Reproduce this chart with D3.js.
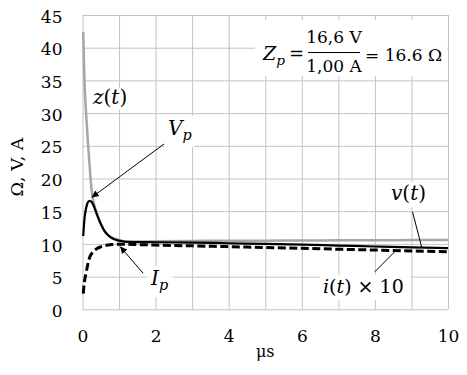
<!DOCTYPE html>
<html>
<head>
<meta charset="utf-8">
<script src="https://cdn.jsdelivr.net/npm/d3@7"></script>
<style>
  body { margin: 0; background: #fff; }
  svg { display: block; }
  .grid line { stroke: #c3c3c3; stroke-width: 1px; }
  .grid path { display: none; }
  text { font-family: "DejaVu Serif", serif; fill: #000; }
</style>
</head>
<body>
<div id="chart"></div>
<script>
// time, µs
var times = [0.02, 0.05, 0.1, 0.15, 0.2, 0.25, 0.3, 0.4, 0.5, 0.6, 0.7, 0.8, 1.0, 1.2, 1.5, 2, 3, 4, 5, 6, 7, 8, 9, 10];
// z(t), ohm
var zValues = [42.4, 35.5, 29.8, 25.4, 21.5, 18.2, 16.5, 14.6, 13.0, 11.95, 11.3, 10.95, 10.55, 10.38, 10.35, 10.4, 10.45, 10.5, 10.5, 10.52, 10.55, 10.56, 10.58, 10.6];
// v(t), V
var vValues = [11.2, 13.6, 15.5, 16.4, 16.6, 16.4, 15.9, 14.4, 13.1, 12.0, 11.35, 10.9, 10.5, 10.32, 10.28, 10.25, 10.2, 10.1, 10.0, 9.9, 9.75, 9.6, 9.47, 9.35];
// i(t) x 10, A
var iValues = [2.4, 4.1, 5.6, 7.0, 8.0, 8.5, 8.85, 9.3, 9.55, 9.72, 9.83, 9.9, 9.95, 9.95, 9.9, 9.82, 9.7, 9.58, 9.45, 9.32, 9.19, 9.06, 8.93, 8.8];

var xTicks = [0, 2, 4, 6, 8, 10];
var xGrid = [0, 1, 2, 3, 4, 5, 6, 7, 8, 9, 10];
var yTicks = [0, 5, 10, 15, 20, 25, 30, 35, 40, 45];

var margin = { left: 82.5, right: 19, top: 15, bottom: 65.7 };
var width = 467 - margin.left - margin.right;
var height = 375 - margin.top - margin.bottom;

var svg = d3.select("#chart").append("svg")
    .attr("width", 467)
    .attr("height", 375);

var g = svg.append("g")
    .attr("transform", "translate(" + margin.left + "," + margin.top + ")");

var x = d3.scaleLinear().domain([0, 10]).range([0, width]);
var y = d3.scaleLinear().domain([0, 45]).range([height, 0]);

// grid
g.append("g")
    .attr("class", "grid")
    .attr("transform", "translate(0," + height + ")")
    .call(d3.axisBottom(x).tickValues(xGrid).tickSize(-height).tickFormat(""));
g.append("g")
    .attr("class", "grid")
    .call(d3.axisLeft(y).tickValues(yTicks).tickSize(-width).tickFormat(""));

// tick labels
var xAxis = g.append("g")
    .attr("transform", "translate(0," + height + ")")
    .call(d3.axisBottom(x).tickValues(xTicks).tickSize(0).tickPadding(21));
xAxis.select(".domain").remove();
xAxis.selectAll("text").attr("font-size", "17px").attr("font-family", "DejaVu Serif");

var yAxis = g.append("g")
    .call(d3.axisLeft(y).tickValues(yTicks).tickSize(0).tickPadding(20));
yAxis.select(".domain").remove();
yAxis.selectAll("text").attr("font-size", "17px").attr("font-family", "DejaVu Serif")
    .attr("dy", "0.42em");

// axis titles
g.append("text")
    .attr("x", width / 2)
    .attr("y", height + 48)
    .attr("text-anchor", "middle")
    .attr("font-size", "16px")
    .text("μs");
g.append("text")
    .attr("transform", "rotate(-90)")
    .attr("x", -(167 - margin.top))
    .attr("y", 23 - margin.left)
    .attr("text-anchor", "middle")
    .attr("font-size", "17.5px")
    .text("Ω, V, A");

// series
function series(vals) {
    return times.map(function(t, k){ return { t: t, v: vals[k] }; });
}
var line = d3.line()
    .x(function(d){ return x(d.t); })
    .y(function(d){ return y(d.v); })
    .curve(d3.curveMonotoneX);

g.append("path")
    .attr("d", line(series(zValues)))
    .attr("fill", "none")
    .attr("stroke", "#a6a6a6")
    .attr("stroke-width", 2.5);
g.append("path")
    .attr("d", line(series(vValues)))
    .attr("fill", "none")
    .attr("stroke", "#000")
    .attr("stroke-width", 2.2);
g.append("path")
    .attr("d", line(series(iValues)))
    .attr("fill", "none")
    .attr("stroke", "#000")
    .attr("stroke-width", 3)
    .attr("stroke-dasharray", "8,3.5");

// arrow marker
svg.append("defs").append("marker")
    .attr("id", "arr")
    .attr("viewBox", "0 0 10 10")
    .attr("refX", 10).attr("refY", 5)
    .attr("markerWidth", 9).attr("markerHeight", 7)
    .attr("markerUnits", "userSpaceOnUse")
    .attr("orient", "auto")
    .append("path").attr("d", "M0,0L10,5L0,10z").attr("fill", "#000");

// label boxes (white, like text boxes)
function box(x0, y0, x1, y1) {
    svg.append("rect")
        .attr("x", x0).attr("y", y0)
        .attr("width", x1 - x0).attr("height", y1 - y0)
        .attr("fill", "#fff");
}

function mathText(px, py, parts, size, anchor) {
    var t = svg.append("text")
        .attr("x", px).attr("y", py)
        .attr("font-size", size + "px")
        .attr("text-anchor", anchor || "start");
    parts.forEach(function(p){
        var s = t.append("tspan").text(p.s);
        if (p.i) s.attr("font-style", "italic");
        if (p.sub) s.attr("font-size", (size * 0.72) + "px").attr("dy", p.sub);
        if (p.dx) s.attr("dx", p.dx);
    });
    return t;
}

function connector(t0, v0, t1, v1, arrow) {
    var l = g.append("line")
        .attr("x1", x(t0)).attr("y1", y(v0))
        .attr("x2", x(t1)).attr("y2", y(v1))
        .attr("stroke", "#000")
        .attr("stroke-width", 1);
    if (arrow) l.attr("marker-end", "url(#arr)");
}

// z(t)
box(91, 88, 134, 110);
mathText(93, 104, [{s:"z", i:true},{s:"("},{s:"t", i:true},{s:")"}], 20);

// V_p
box(164, 116, 194, 147);
mathText(168, 135, [{s:"V", i:true},{s:"p", i:true, sub:"0.35em"}], 20);
connector(2.26, 25.4, 0.25, 17.1, true);

// I_p
box(147, 266, 173, 297);
mathText(151, 285, [{s:"I", i:true},{s:"p", i:true, sub:"0.35em"}], 20);
connector(1.66, 5.5, 1.03, 9.6, true);

// v(t)
box(388, 182, 432, 207);
mathText(391, 200, [{s:"v", i:true},{s:"("},{s:"t", i:true},{s:")"}], 20);
connector(9.03, 14.9, 9.28, 9.5, false);

// i(t) x 10
box(320, 275, 411, 300);
mathText(323, 293, [{s:"i", i:true},{s:"("},{s:"t", i:true},{s:") × 10"}], 19);
connector(8.0, 5.75, 8.55, 8.85, false);

// formula Z_p = 16,6 V / 1,00 A = 16.6 Ω
box(255, 20, 447, 76);
mathText(263, 60, [{s:"Z", i:true},{s:"p", i:true, sub:"0.35em"}], 19);
svg.append("text").attr("x", 289).attr("y", 60).attr("font-size", "18px").text("=");
svg.append("text").attr("x", 334).attr("y", 43).attr("font-size", "17px")
    .attr("text-anchor", "middle").text("16,6 V");
svg.append("line")
    .attr("x1", 308).attr("x2", 360).attr("y1", 52.5).attr("y2", 52.5)
    .attr("stroke", "#000").attr("stroke-width", 1.2);
svg.append("text").attr("x", 334).attr("y", 72).attr("font-size", "17px")
    .attr("text-anchor", "middle").text("1,00 A");
svg.append("text").attr("x", 365).attr("y", 61).attr("font-size", "17px").text("= 16.6 Ω");
</script>
</body>
</html>
